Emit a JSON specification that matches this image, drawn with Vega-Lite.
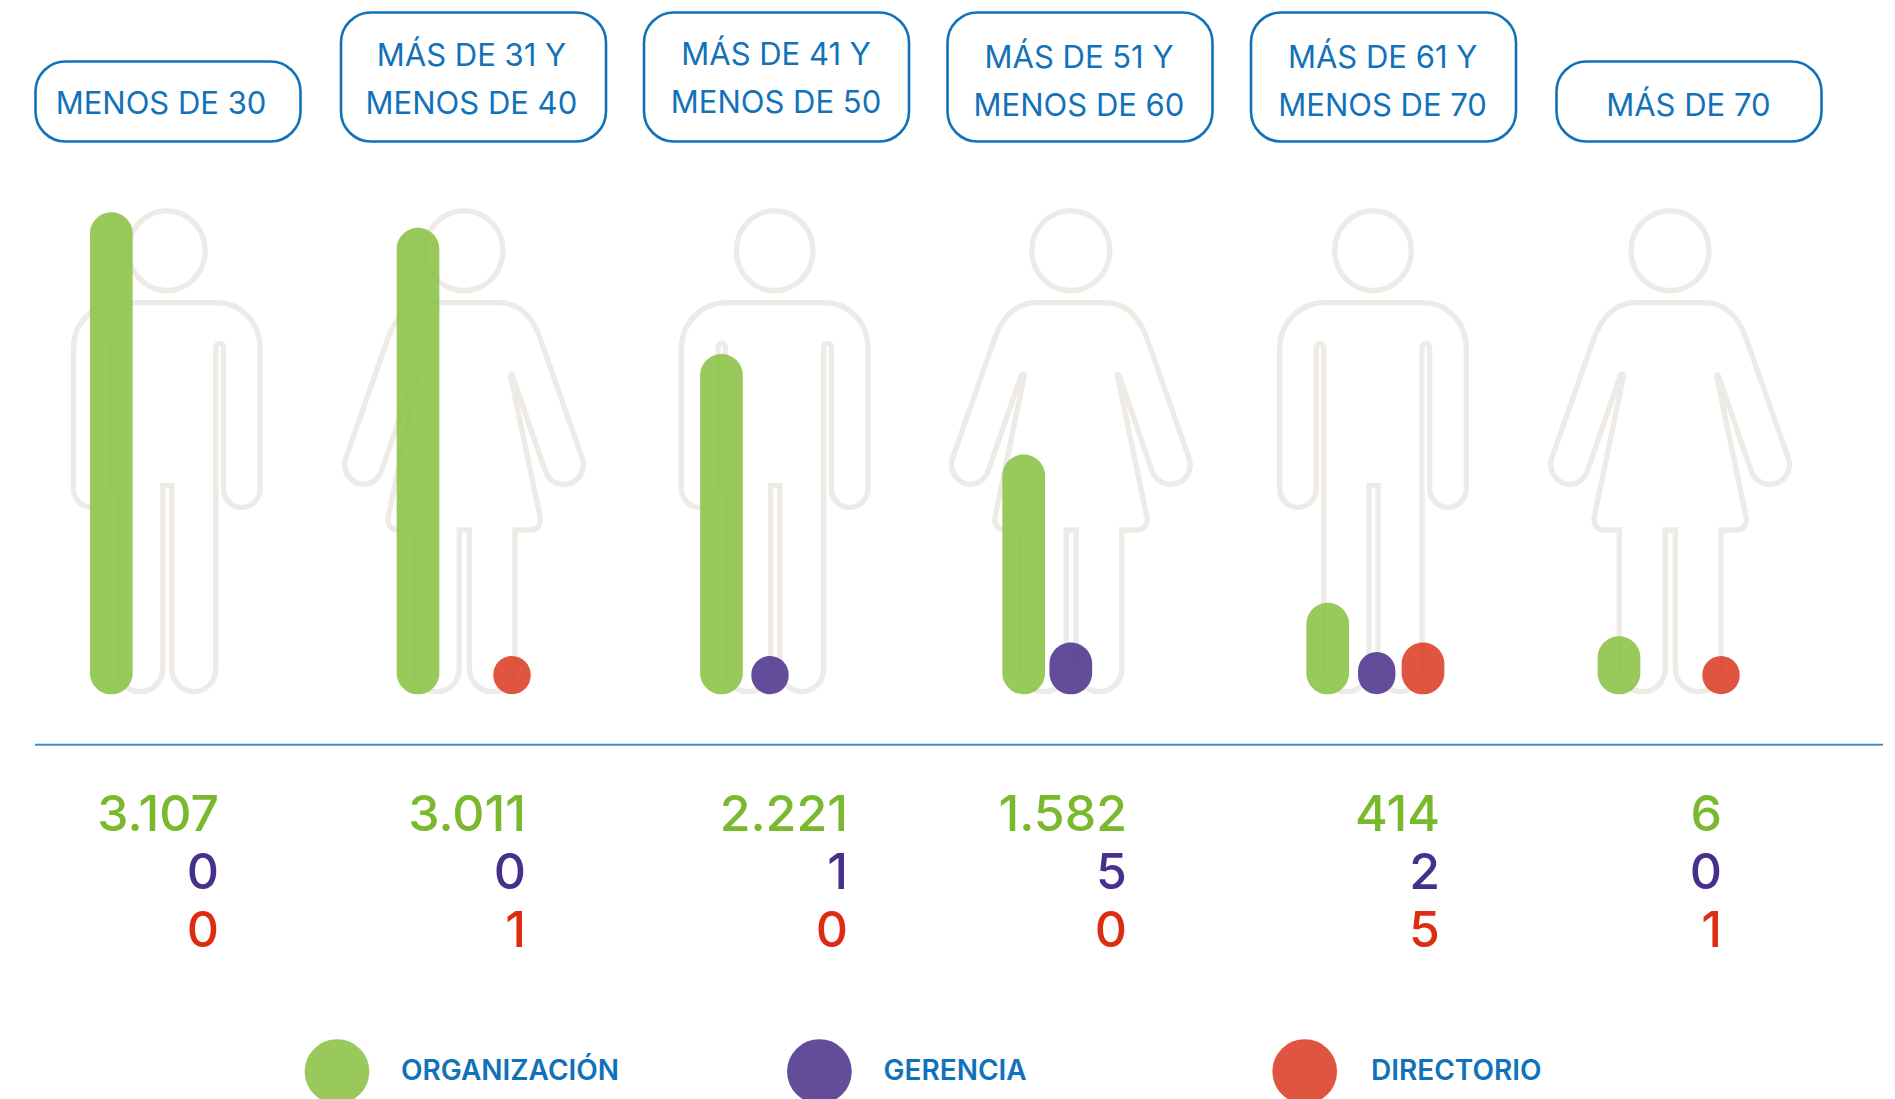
{"$schema":"https://vega.github.io/schema/vega-lite/v6.json","width":1895,"height":1099,"autosize":{"type":"none"},"padding":0,"background":"#ffffff","config":{"view":{"stroke":null}},
"datasets":{
"counts":[
{"group":"Menos de 30","order":1,"series":"Organización","value":3107,"label":"3.107"},
{"group":"Menos de 30","order":1,"series":"Gerencia","value":0,"label":"0"},
{"group":"Menos de 30","order":1,"series":"Directorio","value":0,"label":"0"},
{"group":"Más de 31 y menos de 40","order":2,"series":"Organización","value":3011,"label":"3.011"},
{"group":"Más de 31 y menos de 40","order":2,"series":"Gerencia","value":0,"label":"0"},
{"group":"Más de 31 y menos de 40","order":2,"series":"Directorio","value":1,"label":"1"},
{"group":"Más de 41 y menos de 50","order":3,"series":"Organización","value":2221,"label":"2.221"},
{"group":"Más de 41 y menos de 50","order":3,"series":"Gerencia","value":1,"label":"1"},
{"group":"Más de 41 y menos de 50","order":3,"series":"Directorio","value":0,"label":"0"},
{"group":"Más de 51 y menos de 60","order":4,"series":"Organización","value":1582,"label":"1.582"},
{"group":"Más de 51 y menos de 60","order":4,"series":"Gerencia","value":5,"label":"5"},
{"group":"Más de 51 y menos de 60","order":4,"series":"Directorio","value":0,"label":"0"},
{"group":"Más de 61 y menos de 70","order":5,"series":"Organización","value":414,"label":"414"},
{"group":"Más de 61 y menos de 70","order":5,"series":"Gerencia","value":2,"label":"2"},
{"group":"Más de 61 y menos de 70","order":5,"series":"Directorio","value":5,"label":"5"},
{"group":"Más de 70","order":6,"series":"Organización","value":6,"label":"6"},
{"group":"Más de 70","order":6,"series":"Gerencia","value":0,"label":"0"},
{"group":"Más de 70","order":6,"series":"Directorio","value":1,"label":"1"}],
"groups":[
{"order":1,"figure":"hombre","lines":1},{"order":2,"figure":"mujer","lines":2},{"order":3,"figure":"hombre","lines":2},{"order":4,"figure":"mujer","lines":2},{"order":5,"figure":"hombre","lines":2},{"order":6,"figure":"mujer","lines":1}],
"headers":[
{"order":1,"line":2,"text":"MENOS DE 30"},
{"order":2,"line":1,"text":"MÁS DE 31 Y"},{"order":2,"line":2,"text":"MENOS DE 40"},
{"order":3,"line":1,"text":"MÁS DE 41 Y"},{"order":3,"line":2,"text":"MENOS DE 50"},
{"order":4,"line":1,"text":"MÁS DE 51 Y"},{"order":4,"line":2,"text":"MENOS DE 60"},
{"order":5,"line":1,"text":"MÁS DE 61 Y"},{"order":5,"line":2,"text":"MENOS DE 70"},
{"order":6,"line":2,"text":"MÁS DE 70"}],
"legend":[{"rank":1,"series":"Organización","text":"ORGANIZACIÓN"},{"rank":2,"series":"Gerencia","text":"GERENCIA"},{"rank":3,"series":"Directorio","text":"DIRECTORIO"}]
},
"resolve":{"scale":{"x":"independent","y":"independent","size":"independent","color":"independent","shape":"independent"}},
"layer":[
{"data":{"name":"groups"},"mark":{"type":"bar","orient":"vertical","size":265,"cornerRadius":30,"fill":"#ffffff","stroke":"#1272B9","strokeWidth":2.6},
"encoding":{"x":{"field":"order","type":"quantitative","axis":null,"scale":{"domain":[1,2,3,4,5,6],"range":[168,473.5,776.5,1080,1383.5,1689],"nice":false,"zero":false,"padding":0}},
"y":{"field":"lines","type":"quantitative","stack":null,"axis":null,"scale":{"domain":[0,1,2],"range":[141.5,61.5,12.5],"nice":false}}}},
{"data":{"name":"headers"},"transform":[{"filter":"datum.order <= 2"}],"mark":{"type":"text","font":"Inter","fontSize":31,"fontWeight":400,"color":"#1272B9","align":"center","baseline":"alphabetic"},
"encoding":{"x":{"field":"order","type":"quantitative","axis":null,"scale":{"domain":[1,2,3,4,5,6],"range":[161,471.4,776,1079,1382.6,1688.4],"nice":false,"zero":false}},
"y":{"field":"line","type":"quantitative","axis":null,"scale":{"domain":[1,2],"range":[66,114],"nice":false,"zero":false}},
"text":{"field":"text"}}},
{"data":{"name":"headers"},"transform":[{"filter":"datum.order === 3"}],"mark":{"type":"text","font":"Inter","fontSize":31,"fontWeight":400,"color":"#1272B9","align":"center","baseline":"alphabetic"},
"encoding":{"x":{"field":"order","type":"quantitative","axis":null,"scale":{"domain":[1,2,3,4,5,6],"range":[161,471.4,776,1079,1382.6,1688.4],"nice":false,"zero":false}},
"y":{"field":"line","type":"quantitative","axis":null,"scale":{"domain":[1,2],"range":[64.8,112.8],"nice":false,"zero":false}},
"text":{"field":"text"}}},
{"data":{"name":"headers"},"transform":[{"filter":"datum.order >= 4"}],"mark":{"type":"text","font":"Inter","fontSize":31,"fontWeight":400,"color":"#1272B9","align":"center","baseline":"alphabetic"},
"encoding":{"x":{"field":"order","type":"quantitative","axis":null,"scale":{"domain":[1,2,3,4,5,6],"range":[161,471.4,776,1079,1382.6,1688.4],"nice":false,"zero":false}},
"y":{"field":"line","type":"quantitative","axis":null,"scale":{"domain":[1,2],"range":[67.5,115.5],"nice":false,"zero":false}},
"text":{"field":"text"}}},
{"data":{"name":"groups"},"mark":{"type":"point","filled":false,"size":0.4444,"strokeWidth":5.4,"stroke":"#EEEBE6","opacity":1},
"encoding":{"x":{"field":"order","type":"quantitative","axis":null,"scale":{"domain":[1,2,3,4,5,6],"range":[166.8,464,774.7,1070.8,1373,1670],"nice":false,"zero":false}},
"y":{"datum":1,"axis":null,"scale":{"domain":[0,1],"range":[900,450]}},
"shape":{"field":"figure","legend":null,"scale":{"domain":["hombre","mujer"],"range":[
"M-145,-442L150,-442C225,-442 280,-380 280,-305L280,115C280,147 255,172 225,172C195,172 170,147 170,115L170,-305C170,-325 147,-325 147,-305L147,655C147,695 117,725 82,725C45,725 15,695 15,655L15,107L-12,107L-12,655C-12,695 -43,725 -80,725C-115,725 -148,695 -148,655L-148,-305C-148,-325 -170,-325 -170,-305L-170,115C-170,147 -195,172 -225,172C-255,172 -280,147 -280,115L-280,-305C-280,-380 -220,-442 -145,-442ZM-115,-598C-115,-664 -63,-718 0,-718C63,-718 115,-664 115,-598C115,-532 63,-478 0,-478C-63,-478 -115,-532 -115,-598Z",
"M-102,-442L103,-442C168,-442 208,-395 230,-330L355,25C368,65 338,103 300,103C273,103 250,85 243,60L146,-220C143,-230 138,-225 141,-217L228,200C233,225 218,240 198,240L153,240L153,655C153,695 123,725 85,725C48,725 16,695 16,655L16,240L-14,240L-14,655C-14,695 -45,725 -82,725C-119,725 -152,695 -152,655L-152,240L-197,240C-217,240 -232,225 -227,200L-140,-220C-137,-230 -147,-230 -150,-220L-247,60C-254,85 -277,103 -300,103C-337,103 -367,65 -355,25L-230,-330C-207,-395 -167,-442 -102,-442ZM-117,-598C-117,-664 -65,-718 0,-718C65,-718 117,-664 117,-598C117,-532 65,-478 0,-478C-65,-478 -117,-532 -117,-598Z"]}}}},
{"data":{"name":"counts"},"transform":[{"filter":"datum.value > 0 && datum.series === 'Organización'"}],"mark":{"type":"bar","orient":"vertical","cornerRadius":30,"opacity":0.9},
"encoding":{"x":{"field":"order","type":"quantitative","axis":null,"scale":{"domain":[1,2,3,4,5,6],"range":[111.3,418,721.5,1023.7,1327.7,1619],"nice":false,"zero":false,"padding":0}},
"y":{"field":"value","type":"quantitative","stack":null,"axis":null,"scale":{"domain":[0,1,2,5,6,414,1582,2221,3011,3107],"range":[694.3,656,652,642.5,636.3,602.7,454.4,354,227.7,212.3],"nice":false}},
"size":{"field":"value","type":"quantitative","legend":null,"scale":{"domain":[1,2,5,3107],"range":[37.4,37.4,42.7,42.7],"zero":false,"nice":false}},
"color":{"field":"series","legend":null,"scale":{"domain":["Organización","Gerencia","Directorio"],"range":["#8DC348","#523A90","#DC432B"]}}}},
{"data":{"name":"counts"},"transform":[{"filter":"datum.value > 0 && datum.series === 'Gerencia'"}],"mark":{"type":"bar","orient":"vertical","cornerRadius":30,"opacity":0.9},
"encoding":{"x":{"field":"order","type":"quantitative","axis":null,"scale":{"domain":[3,4,5],"range":[770,1070.8,1376.7],"nice":false,"zero":false,"padding":0}},
"y":{"field":"value","type":"quantitative","stack":null,"axis":null,"scale":{"domain":[0,1,2,5,6,414,1582,2221,3011,3107],"range":[694.3,656,652,642.5,636.3,602.7,454.4,354,227.7,212.3],"nice":false}},
"size":{"field":"value","type":"quantitative","legend":null,"scale":{"domain":[1,2,5,3107],"range":[37.4,37.4,42.7,42.7],"zero":false,"nice":false}},
"color":{"field":"series","legend":null,"scale":{"domain":["Organización","Gerencia","Directorio"],"range":["#8DC348","#523A90","#DC432B"]}}}},
{"data":{"name":"counts"},"transform":[{"filter":"datum.value > 0 && datum.series === 'Directorio'"}],"mark":{"type":"bar","orient":"vertical","cornerRadius":30,"opacity":0.9},
"encoding":{"x":{"field":"order","type":"quantitative","axis":null,"scale":{"domain":[2,5,6],"range":[512,1423,1721],"nice":false,"zero":false,"padding":0}},
"y":{"field":"value","type":"quantitative","stack":null,"axis":null,"scale":{"domain":[0,1,2,5,6,414,1582,2221,3011,3107],"range":[694.3,656,652,642.5,636.3,602.7,454.4,354,227.7,212.3],"nice":false}},
"size":{"field":"value","type":"quantitative","legend":null,"scale":{"domain":[1,2,5,3107],"range":[37.4,37.4,42.7,42.7],"zero":false,"nice":false}},
"color":{"field":"series","legend":null,"scale":{"domain":["Organización","Gerencia","Directorio"],"range":["#8DC348","#523A90","#DC432B"]}}}},
{"data":{"values":[{"elemento":"divisor"}]},"mark":{"type":"rule","stroke":"#3F8CC6","strokeWidth":2},
"encoding":{"x":{"datum":0,"axis":null,"scale":{"domain":[0,1],"range":[35,1883]}},"x2":{"datum":1},"y":{"datum":0,"axis":null,"scale":{"domain":[0,1],"range":[744.7,0]}}}},
{"data":{"name":"counts"},"mark":{"type":"text","font":"Inter","fontSize":50,"fontWeight":500,"align":"right","baseline":"alphabetic"},
"encoding":{"x":{"field":"order","type":"quantitative","axis":null,"scale":{"domain":[1,2,3,4,5,6],"range":[219,526,848,1127,1440,1722],"nice":false,"zero":false}},
"y":{"field":"series","type":"nominal","axis":null,"scale":{"type":"point","domain":["Organización","Gerencia","Directorio"],"range":[830.7,946.7],"padding":0}},
"text":{"field":"label"},
"color":{"field":"series","legend":null,"scale":{"domain":["Organización","Gerencia","Directorio"],"range":["#7AB92D","#46308B","#DD2C12"]}}}},
{"data":{"name":"legend"},"mark":{"type":"point","filled":true,"size":4186,"shape":"circle","opacity":0.9},
"encoding":{"x":{"field":"rank","type":"quantitative","axis":null,"scale":{"domain":[1,2,3],"range":[337,819.4,1304.7],"nice":false,"zero":false}},
"y":{"datum":1,"axis":null,"scale":{"domain":[0,1],"range":[1099,1071.5]}},
"color":{"field":"series","legend":null,"scale":{"domain":["Organización","Gerencia","Directorio"],"range":["#8DC348","#523A90","#DC432B"]}}}},
{"data":{"name":"legend"},"mark":{"type":"text","font":"Inter","fontSize":28,"fontWeight":600,"color":"#1272B9","align":"left","baseline":"alphabetic"},
"encoding":{"x":{"field":"rank","type":"quantitative","axis":null,"scale":{"domain":[1,2,3],"range":[401,883.5,1371],"nice":false,"zero":false}},
"y":{"datum":1,"axis":null,"scale":{"domain":[0,1],"range":[1099,1079.5]}},
"text":{"field":"text"}}}
]}
